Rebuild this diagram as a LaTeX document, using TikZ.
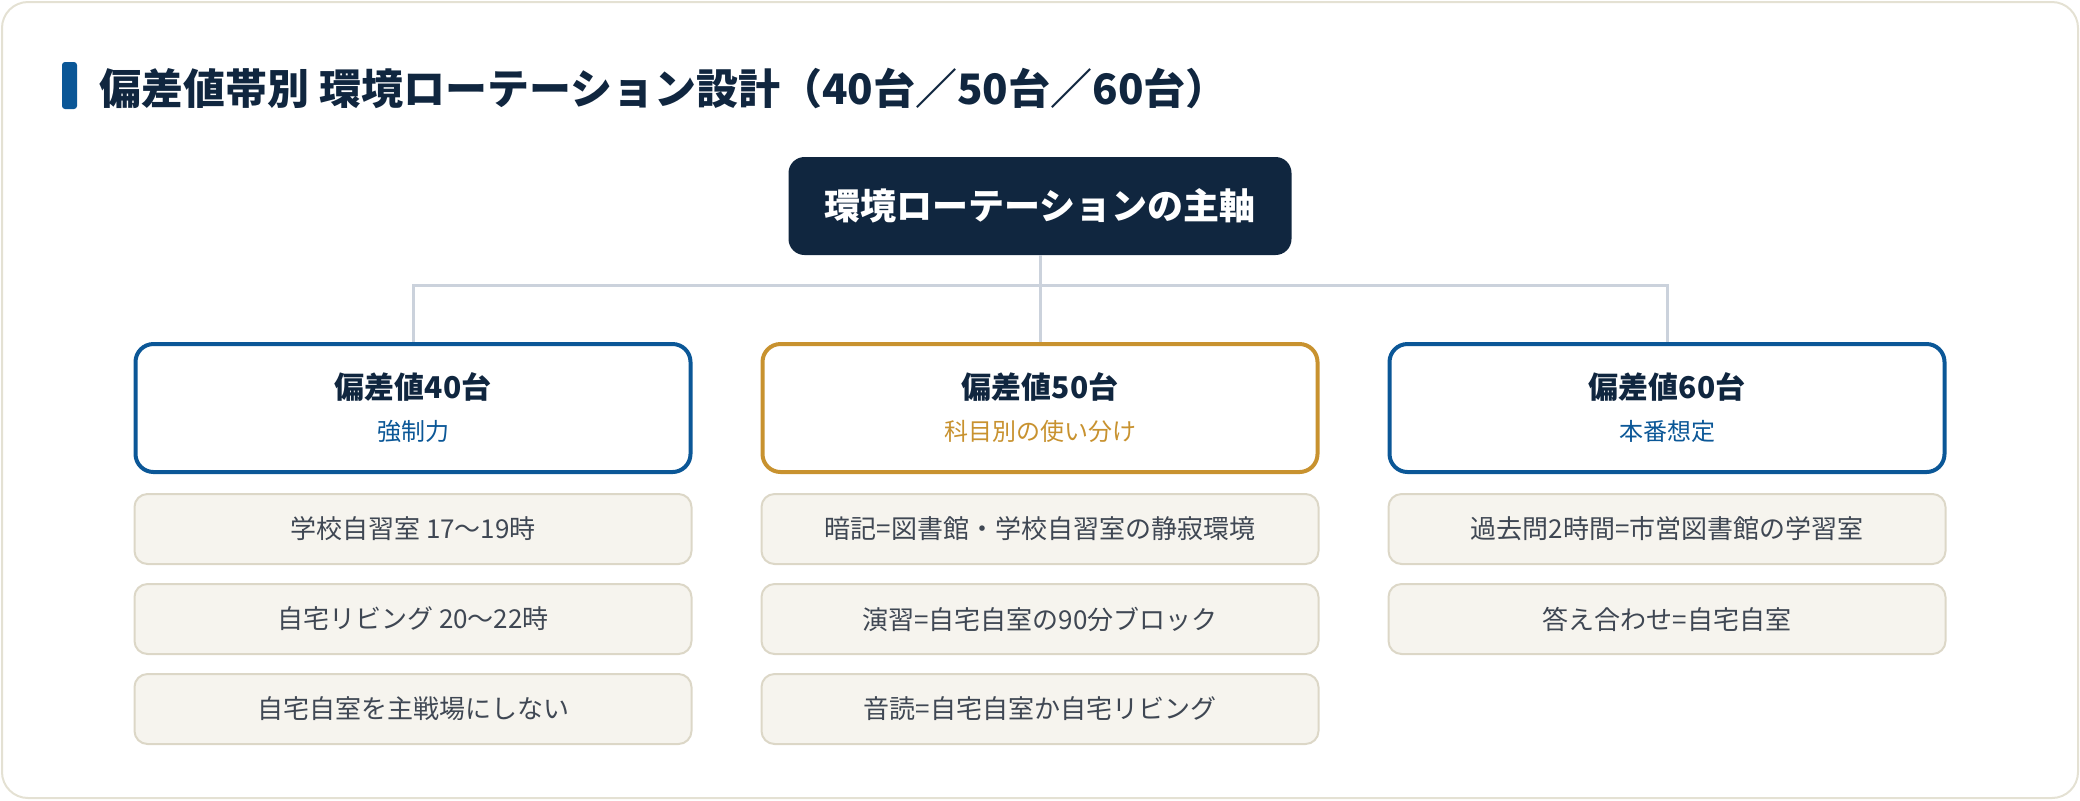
\documentclass[tikz,border=0pt]{standalone}
\usepackage{fontspec}
\setmainfont{Noto Sans CJK JP}
\usetikzlibrary{positioning}

\definecolor{navy}{HTML}{10263F}
\definecolor{bandblue}{HTML}{0B5797}
\definecolor{bandgold}{HTML}{C8922F}
\definecolor{linkgrey}{HTML}{CBD2DC}
\definecolor{itemfill}{HTML}{F6F4EE}
\definecolor{itemline}{HTML}{DCD7C7}
\definecolor{itemtext}{HTML}{3F4753}
\definecolor{cardline}{HTML}{E4E1D3}

\tikzset{
  axisbox/.style={fill=navy, text=white, rounded corners=8pt,
    minimum width=251.5pt, minimum height=49pt,
    font=\fontsize{18pt}{22pt}\selectfont\bfseries},
  band/.style={draw=#1, line width=2pt, fill=white, rounded corners=9pt,
    minimum width=277.5pt, minimum height=64pt, align=center,
    font=\fontsize{12pt}{21pt}\selectfont},
  item/.style={draw=itemline, line width=1pt, fill=itemfill, rounded corners=6.5pt,
    minimum width=278.5pt, minimum height=35pt, text=itemtext,
    font=\fontsize{13pt}{16pt}\selectfont},
  link/.style={draw=linkgrey, line width=1.5pt},
}

\begin{document}
\begin{tikzpicture}[x=0.5pt, y=-0.5pt]
      \useasboundingbox (0,0) rectangle (2080,800);
      \draw[cardline, line width=1pt, rounded corners=13pt] (2,2) rectangle (2078,798);

      \fill[bandblue, rounded corners=1.5pt] (62,62) rectangle (77,109);
      \node[anchor=west, inner sep=0pt, text=navy, font=\fontsize{21pt}{25pt}\selectfont\bfseries]
        (title) at (99,88) {偏差値帯別 環境ローテーション設計（40台／50台／60台）};

      \node[axisbox] (axis) at (1040,206) {環境ローテーションの主軸};

      \node[band=bandblue] (h40) at (413,408)
        {{\fontsize{15pt}{21pt}\selectfont\bfseries\color{navy}偏差値40台}\\{\color{bandblue}強制力}};
      \node[band=bandgold] (h50) at (1040,408)
        {{\fontsize{15pt}{21pt}\selectfont\bfseries\color{navy}偏差値50台}\\{\color{bandgold}科目別の使い分け}};
      \node[band=bandblue] (h60) at (1667,408)
        {{\fontsize{15pt}{21pt}\selectfont\bfseries\color{navy}偏差値60台}\\{\color{bandblue}本番想定}};

      \coordinate (fork) at (1040,285);
      \draw[link] (axis) -- (fork);
      \draw[link] (fork) -| (h40);
      \draw[link] (fork) -- (h50);
      \draw[link] (fork) -| (h60);

      \node[item, below=9.5pt of h40] (a1) {学校自習室 17〜19時};
      \node[item, below=9pt of a1] (a2) {自宅リビング 20〜22時};
      \node[item, below=9pt of a2] (a3) {自宅自室を主戦場にしない};

      \node[item, below=9.5pt of h50] (b1) {暗記=図書館・学校自習室の静寂環境};
      \node[item, below=9pt of b1] (b2) {演習=自宅自室の90分ブロック};
      \node[item, below=9pt of b2] (b3) {音読=自宅自室か自宅リビング};

      \node[item, below=9.5pt of h60] (c1) {過去問2時間=市営図書館の学習室};
      \node[item, below=9pt of c1] (c2) {答え合わせ=自宅自室};
    \end{tikzpicture}
\end{document}
